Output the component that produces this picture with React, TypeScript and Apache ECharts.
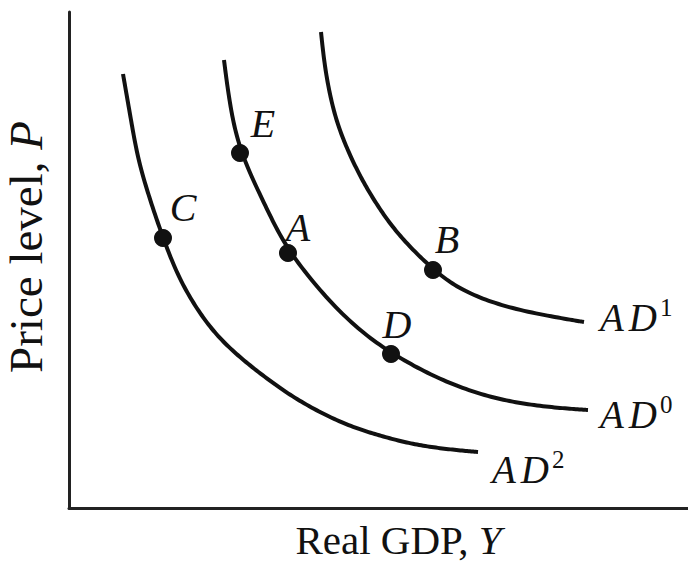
import React, { useEffect, useRef } from "react";
import * as echarts from "echarts";

// Curve samples (arbitrary units: x = real GDP, y = price level)
const ad0X = [155, 161, 171, 197, 219, 275, 322, 375, 425, 475, 519];
const ad0Y = [448, 401, 355, 301, 255, 189, 154, 126, 109, 101, 98];

const ad1X = [252, 256, 264, 274, 291, 311, 331, 364, 394, 444, 515];
const ad1Y = [476, 438, 398, 368, 331, 298, 271, 238, 216, 198, 186];

const ad2X = [54, 62, 69, 81, 94, 111, 138, 164, 198, 231, 274, 308, 342, 375, 409];
const ad2Y = [434, 388, 348, 308, 270, 226, 183, 156, 129, 106, 84, 73, 64, 59, 56];

// Labelled points
const pointNames = ["C", "E", "A", "D", "B"];
const pointX = [94, 171, 219, 322, 364];
const pointY = [270, 355, 255, 154, 238];

const curveNames = ["AD0", "AD1", "AD2"];
const curveSup = ["0", "1", "2"];

const INK = "#111";
const SERIF = "Liberation Serif";

function pairs(xs: number[], ys: number[]) {
  return xs.map((x, i) => [x, ys[i]]);
}

// clamped uniform cubic B-spline through projected pixel points (drawing only)
function bspline(pts: number[][], steps = 16): number[][] {
  if (pts.length < 3) return pts;
  const p = [pts[0], pts[0], ...pts, pts[pts.length - 1], pts[pts.length - 1]];
  const out: number[][] = [];
  for (let i = 0; i < p.length - 3; i++) {
    const [p0, p1, p2, p3] = [p[i], p[i + 1], p[i + 2], p[i + 3]];
    for (let s = 0; s <= steps; s++) {
      if (i > 0 && s === 0) continue;
      const t = s / steps;
      const t2 = t * t;
      const t3 = t2 * t;
      const b0 = (1 - t) * (1 - t) * (1 - t) / 6;
      const b1 = (3 * t3 - 6 * t2 + 4) / 6;
      const b2 = (-3 * t3 + 3 * t2 + 3 * t + 1) / 6;
      const b3 = t3 / 6;
      out.push([
        b0 * p0[0] + b1 * p1[0] + b2 * p2[0] + b3 * p3[0],
        b0 * p0[1] + b1 * p1[1] + b2 * p2[1] + b3 * p3[1],
      ]);
    }
  }
  return out;
}

export default function App() {
  const ref = useRef<HTMLDivElement>(null);

  useEffect(() => {
    if (!ref.current) return;
    const chart = echarts.init(ref.current, undefined, { renderer: "svg" });

    const labelOffsets: Record<string, number[]> = {
      C: [20, 2],
      E: [23, 3],
      A: [10, 7],
      D: [6, 3],
      B: [14, 2],
    };
    const endLabelShift = [
      [12, 4],
      [16, -5],
      [14, 17],
    ];

    const curveData = [pairs(ad0X, ad0Y), pairs(ad1X, ad1Y), pairs(ad2X, ad2Y)];

    const richStyle = {
      a: { fontFamily: SERIF, fontStyle: "italic", fontSize: 39, fill: INK, padding: [0, 5, 0, 0] },
      d: { fontFamily: SERIF, fontStyle: "italic", fontSize: 39, fill: INK },
      s: { fontFamily: SERIF, fontSize: 25, fill: INK, padding: [0, 0, 20, 3] },
    };

    const curveSeries = curveData.map((data, ci) => ({
      type: "custom",
      name: curveNames[ci],
      data,
      silent: true,
      clip: false,
      renderItem: (params: any, api: any) => {
        if (params.dataIndex !== 0) return null;
        const px = data.map((d) => api.coord(d));
        const last = px[px.length - 1];
        return {
          type: "group",
          children: [
            {
              type: "polyline",
              shape: { points: bspline(px) },
              style: { stroke: INK, lineWidth: 4, fill: null, lineCap: "butt", lineJoin: "round" },
            },
            {
              type: "text",
              x: last[0] + endLabelShift[ci][0],
              y: last[1] + endLabelShift[ci][1],
              style: {
                text: `{a|A}{d|D}{s|${curveSup[ci]}}`,
                rich: richStyle,
                fill: INK,
                align: "left",
                verticalAlign: "middle",
              },
            },
          ],
        };
      },
    }));

    const option = {
      animation: false,
      backgroundColor: "#fff",
      grid: { left: 69, right: 0, top: 12, bottom: 55, containLabel: false, outerBoundsMode: "none" },
      xAxis: {
        type: "value",
        min: 0,
        max: 619,
        axisLine: { show: true, lineStyle: { color: "#222", width: 3 } },
        axisTick: { show: false },
        axisLabel: { show: false },
        splitLine: { show: false },
        name: "Real GDP, {i|Y}",
        nameLocation: "middle",
        nameGap: 14,
        nameTextStyle: {
          fontFamily: SERIF,
          fontSize: 41,
          lineHeight: 36,
          color: INK,
          padding: [0, 0, 0, 40],
          rich: { i: { fontFamily: SERIF, fontSize: 41, lineHeight: 36, fontStyle: "italic", color: INK } },
        },
      },
      yAxis: {
        type: "value",
        min: 0,
        max: 496,
        axisLine: { show: true, lineStyle: { color: "#222", width: 3 } },
        axisTick: { show: false },
        axisLabel: { show: false },
        splitLine: { show: false },
        name: "Price level, {i|P}",
        nameLocation: "middle",
        nameGap: 20,
        nameTextStyle: {
          fontFamily: SERIF,
          fontSize: 47,
          color: INK,
          padding: [0, 0, 0, 26],
          rich: { i: { fontFamily: SERIF, fontSize: 47, fontStyle: "italic", color: INK } },
        },
      },
      series: [
        ...curveSeries,
        {
          type: "scatter",
          symbol: "circle",
          symbolSize: 18,
          itemStyle: { color: INK, opacity: 1 },
          silent: true,
          z: 5,
          data: pointNames.map((n, i) => ({
            name: n,
            value: [pointX[i], pointY[i]],
            label: { offset: labelOffsets[n] },
          })),
          label: {
            show: true,
            position: "top",
            distance: 4,
            formatter: (p: any) => p.name,
            fontFamily: SERIF,
            fontStyle: "italic",
            fontSize: 40,
            color: INK,
            opacity: 1,
          },
        },
      ],
    };

    chart.setOption(option as any);
    return () => chart.dispose();
  }, []);

  return (
    <div
      ref={ref}
      style={{ position: "fixed", left: 0, top: 0, width: 688, height: 563, background: "#fff" }}
    />
  );
}
